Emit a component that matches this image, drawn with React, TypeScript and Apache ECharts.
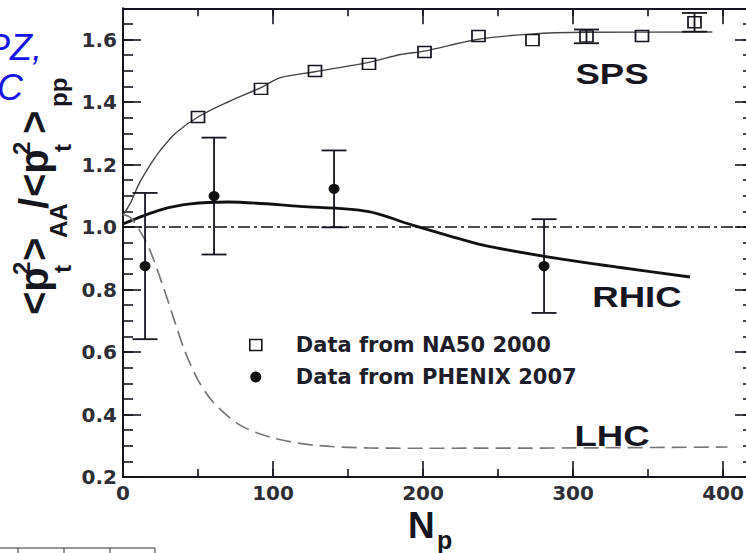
import React, { useEffect, useRef } from 'react';
import * as echarts from 'echarts';

// ---- data ----
const xMin = 0;
const xMax = 420;
const yMin = 0.2;
const yMax = 1.7;

const na50X = [50, 92, 128, 164, 201, 237, 273, 309, 346, 381];
const na50Y = [1.352, 1.442, 1.499, 1.522, 1.56, 1.611, 1.598, 1.61, 1.611, 1.655];
const na50Err = [0, 0, 0, 0, 0, 0, 0, 0.022, 0, 0.03];

const phenixX = [14.7, 60.7, 140.7, 280.7];
const phenixY = [0.875, 1.099, 1.122, 0.875];
const phenixErr = [0.234, 0.187, 0.123, 0.15];

const spsCurveX = [0, 5, 11, 19, 25, 35, 50, 70, 92, 105, 128, 164, 185, 201, 236, 273, 309, 393];
const spsCurveY = [1.038, 1.077, 1.141, 1.205, 1.246, 1.3, 1.352, 1.4, 1.446, 1.478, 1.497, 1.527, 1.552, 1.563, 1.6, 1.618, 1.623, 1.624];

const rhicCurveX = [0, 25, 45, 70, 118, 163, 193, 218, 240, 280, 329, 378];
const rhicCurveY = [1.01, 1.055, 1.074, 1.08, 1.066, 1.05, 1.006, 0.971, 0.942, 0.907, 0.872, 0.84];

const lhcCurveX = [0, 5, 11, 18, 26, 35, 41, 50, 60, 78, 100, 127, 163, 200, 300, 403];
const lhcCurveY = [1.04, 1.03, 0.99, 0.925, 0.82, 0.69, 0.606, 0.51, 0.44, 0.366, 0.325, 0.302, 0.293, 0.292, 0.293, 0.296];

const refLineX = [0, 420];
const refLineY = [1, 1];

const legendNames = ['Data from NA50 2000', 'Data from PHENIX 2007'];
const curveLabels = ['SPS', 'RHIC', 'LHC'];

const zip = (xs: number[], ys: number[]) => xs.map((x, i) => [x, ys[i]]);
const zip3 = (xs: number[], ys: number[], es: number[]) =>
  xs.map((x, i) => [x, ys[i], es[i]]).filter((d) => d[2] > 0);

const INK = '#161620';
const tickFont = { fontFamily: 'DejaVu Sans', fontWeight: 'bold' as const, fontSize: 20, color: '#2e2e36' };

function xAx(position: 'top' | 'bottom', interval: number, len: number, showLine: boolean, showLabel: boolean) {
  return {
    type: 'value', position, min: xMin, max: xMax, interval,
    axisLine: { show: showLine, onZero: false, lineStyle: { color: INK, width: 2 } },
    axisTick: { show: true, inside: true, length: len, lineStyle: { color: INK, width: 1.6 } },
    axisLabel: {
      show: showLabel, margin: 6, ...tickFont, lineHeight: 20,
      formatter: (v: number) => (Math.abs(v % 100) < 1e-6 ? String(v) : ''),
    },
    splitLine: { show: false },
  };
}
function yAx(position: 'left' | 'right', interval: number, len: number, showLine: boolean, showLabel: boolean) {
  return {
    type: 'value', position, min: yMin, max: yMax, interval,
    axisLine: { show: showLine, onZero: false, lineStyle: { color: INK, width: 2 } },
    axisTick: { show: true, inside: true, length: len, lineStyle: { color: INK, width: 1.6 } },
    axisLabel: {
      show: showLabel, margin: 6, ...tickFont,
      formatter: (v: number) => {
        const k = v / 0.2;
        return Math.abs(k - Math.round(k)) < 1e-6 ? v.toFixed(1) : '';
      },
    },
    splitLine: { show: false },
  };
}

function errRender(capHalf: number) {
  return (params: any, api: any) => {
    const x = api.value(0);
    const y = api.value(1);
    const e = api.value(2);
    const t = api.coord([x, y + e]);
    const b = api.coord([x, y - e]);
    const st = { stroke: INK, lineWidth: 1.8 };
    return {
      type: 'group',
      children: [
        { type: 'line', shape: { x1: t[0], y1: t[1], x2: b[0], y2: b[1] }, style: st },
        { type: 'line', shape: { x1: t[0] - capHalf, y1: t[1], x2: t[0] + capHalf, y2: t[1] }, style: st },
        { type: 'line', shape: { x1: b[0] - capHalf, y1: b[1], x2: b[0] + capHalf, y2: b[1] }, style: st },
      ],
    };
  };
}

function txt(text: string, x: number, y: number, size: number, opts: any = {}) {
  return {
    type: 'text', x, y,
    scaleX: opts.scaleX ?? 1, scaleY: opts.scaleY ?? 1,
    style: {
      text,
      fontFamily: opts.family ?? 'Liberation Sans',
      fontWeight: opts.weight ?? 'bold',
      fontStyle: opts.style ?? 'normal',
      fontSize: size,
      lineHeight: opts.lineHeight ?? size,
      fill: opts.color ?? INK,
      textAlign: opts.align ?? 'left',
      align: opts.align ?? 'left',
      textVerticalAlign: 'middle',
      verticalAlign: 'middle',
    },
  };
}

// y-axis title pieces, rotated group (local x = reading direction, local y = screen x)
const yMainSize = 40;
const ySubSize = 24;
const yTitlePieces = [
  txt('<p', 0, 34, yMainSize),
  txt('2', 40, 21.7, ySubSize),
  txt('t', 42, 62, ySubSize),
  txt('>', 54, 34, yMainSize),
  txt('AA', 77, 58, ySubSize),
  txt('/', 106, 34, yMainSize),
  txt('<p', 118, 34, yMainSize),
  txt('2', 160, 21.7, ySubSize),
  txt('t', 163, 62, ySubSize),
  txt('>', 181, 34, yMainSize),
  txt('pp', 208, 58, ySubSize),
];

const option: any = {
  animation: false,
  backgroundColor: '#ffffff',
  grid: { left: 123, top: 8.25, width: 630, height: 468.75, outerBoundsMode: 'none', containLabel: false },
  xAxis: [
    xAx('bottom', 100, 16, true, true),
    xAx('bottom', 50, 8, false, false),
    xAx('top', 100, 16, true, false),
    xAx('top', 50, 8, false, false),
  ],
  yAxis: [
    yAx('left', 0.2, 18, true, true),
    yAx('left', 0.05, 10, false, false),
    yAx('right', 0.2, 18, true, false),
    yAx('right', 0.05, 10, false, false),
  ],
  legend: {
    orient: 'vertical',
    left: 244,
    top: 329.5,
    itemWidth: 12,
    itemHeight: 11,
    itemGap: 11,
    selectedMode: false,
    textStyle: {
      fontFamily: 'DejaVu Sans', fontWeight: 'bold', fontSize: 21, lineHeight: 21,
      color: '#1e1e2a', padding: [0, 0, 0, 29],
    },
    data: [
      { name: legendNames[0], icon: 'rect', itemStyle: { color: '#ffffff', borderColor: INK, borderWidth: 1.6, opacity: 1 } },
      { name: legendNames[1], icon: 'circle', itemStyle: { color: '#111', borderWidth: 0, opacity: 1 } },
    ],
  },
  series: [
    {
      type: 'line', name: 'ref', data: zip(refLineX, refLineY), symbol: 'none', z: 1,
      lineStyle: { color: '#111', width: 1.3, type: [12, 4, 3, 4] },
    },
    {
      type: 'line', name: 'SPS curve', data: zip(spsCurveX, spsCurveY), symbol: 'none', smooth: 0.3, z: 2,
      lineStyle: { color: '#444', width: 1.4 },
    },
    {
      type: 'line', name: 'RHIC curve', data: zip(rhicCurveX, rhicCurveY), symbol: 'none', smooth: 0.3, z: 2,
      lineStyle: { color: '#111', width: 2.8 },
    },
    {
      type: 'line', name: 'LHC curve', data: zip(lhcCurveX, lhcCurveY), symbol: 'none', smooth: 0.3, z: 2,
      lineStyle: { color: '#777', width: 1.7, type: [15, 7] },
    },
    {
      type: 'custom', name: 'na50err', data: zip3(na50X, na50Y, na50Err), z: 3,
      renderItem: errRender(12.5), silent: true,
    },
    {
      type: 'custom', name: 'phenixerr', data: zip3(phenixX, phenixY, phenixErr), z: 3,
      renderItem: errRender(12.5), silent: true,
    },
    {
      type: 'scatter', name: legendNames[0], data: zip(na50X, na50Y), symbol: 'rect', symbolSize: [13, 11], z: 4,
      itemStyle: { color: 'rgba(255,255,255,0)', borderColor: INK, borderWidth: 1.6, opacity: 1 },
    },
    {
      type: 'scatter', name: legendNames[1], data: zip(phenixX, phenixY), symbol: 'circle', symbolSize: [11, 10], z: 4,
      itemStyle: { color: '#111', opacity: 1 },
    },
  ],
  graphic: [
    txt(curveLabels[0], 612, 74, 30, { align: 'center', scaleX: 1.22 }),
    txt(curveLabels[1], 637, 297, 30, { align: 'center', scaleX: 1.22 }),
    txt(curveLabels[2], 612, 436, 30, { align: 'center', scaleX: 1.22 }),
    txt('N', 408, 525, 37, { lineHeight: 28 }),
    txt('p', 437, 540, 25, { lineHeight: 18 }),
    txt('PZ,', 42, 47.5, 36, { weight: 'normal', style: 'italic', color: '#1414e6', align: 'right', family: 'Liberation Sans' }),
    txt('C', 23, 87.5, 36, { weight: 'normal', style: 'italic', color: '#1414e6', align: 'right', family: 'Liberation Sans' }),
    { type: 'group', x: 0, y: 315, rotation: Math.PI / 2, children: yTitlePieces },
    { type: 'line', shape: { x1: 0, y1: 548, x2: 155, y2: 548 }, style: { stroke: '#333', lineWidth: 1 } },
    { type: 'line', shape: { x1: 18, y1: 548, x2: 18, y2: 553 }, style: { stroke: '#333', lineWidth: 1 } },
    { type: 'line', shape: { x1: 64, y1: 548, x2: 64, y2: 553 }, style: { stroke: '#333', lineWidth: 1 } },
    { type: 'line', shape: { x1: 110, y1: 548, x2: 110, y2: 553 }, style: { stroke: '#333', lineWidth: 1 } },
    { type: 'line', shape: { x1: 155, y1: 548, x2: 155, y2: 553 }, style: { stroke: '#333', lineWidth: 1 } },
  ],
};

export default function App() {
  const ref = useRef<HTMLDivElement>(null);
  useEffect(() => {
    const chart = echarts.init(ref.current!, undefined, { renderer: 'svg' });
    chart.setOption(option);
    return () => chart.dispose();
  }, []);
  return (
    <div
      ref={ref}
      style={{ position: 'fixed', left: 0, top: 0, width: 746, height: 553, background: '#ffffff', overflow: 'hidden' }}
    />
  );
}
